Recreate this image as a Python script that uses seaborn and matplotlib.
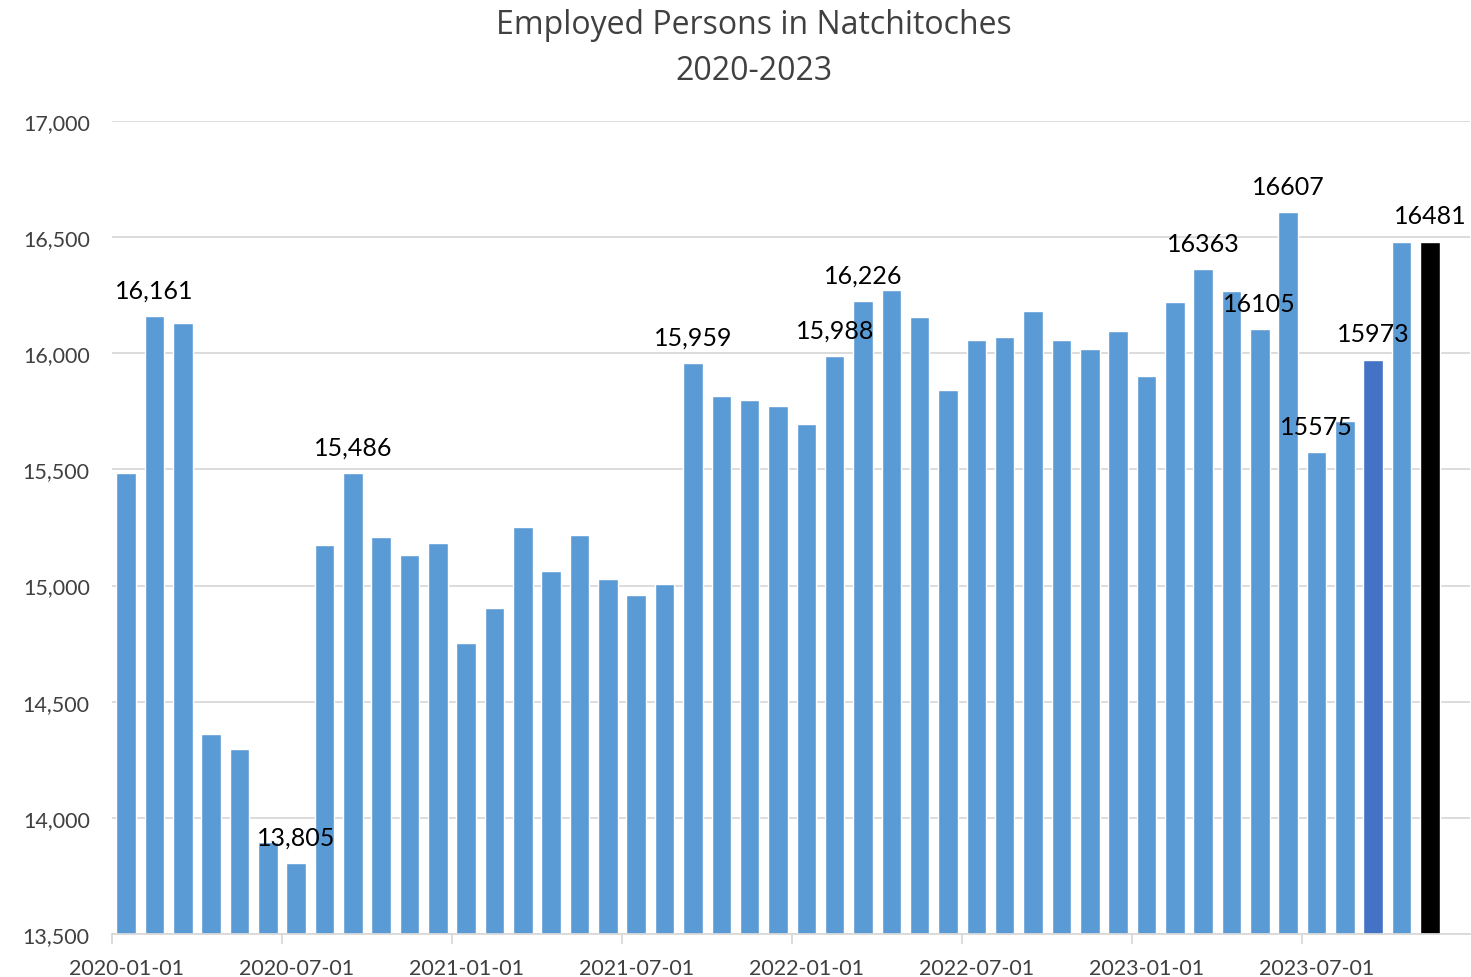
import numpy as np
import pandas as pd
import seaborn as sns
import matplotlib.pyplot as plt
from matplotlib.ticker import FuncFormatter, FixedLocator

# monthly employed persons, 2020-01 .. 2023-11
months = pd.date_range('2020-01-01', '2023-11-01', freq='MS').strftime('%Y-%m-%d').tolist()
employed = [15486, 16161, 16130, 14361, 14296, 13896, 13805, 15174, 15486, 15209,
            15131, 15183, 14753, 14903, 15252, 15063, 15217, 15028, 14959, 15007,
            15959, 15816, 15799, 15773, 15695, 15988, 16226, 16272, 16156, 15842,
            16057, 16070, 16182, 16057, 16018, 16096, 15902, 16221, 16363, 16268,
            16105, 16607, 15575, 15708, 15973, 16481, 16481]

# labelled bars (index -> text)
labels = {1: '16,161', 6: '13,805', 8: '15,486', 20: '15,959', 25: '15,988',
          26: '16,226', 38: '16363', 40: '16105', 41: '16607', 42: '15575',
          44: '15973', 46: '16481'}

tick_labels = ['2020-01-01', '2020-07-01', '2021-01-01', '2021-07-01',
               '2022-01-01', '2022-07-01', '2023-01-01', '2023-07-01']

colors = ['#5B9BD5'] * len(months)
colors[44] = '#4472C4'
colors[46] = '#000000'

df = pd.DataFrame({'month': months, 'employed': employed})

sns.set_style('white')
plt.rcParams['font.family'] = ['Lato', 'DejaVu Sans']

fig = plt.figure(figsize=(14.71, 9.78), dpi=100)
ax = fig.add_axes([0.0761, 0.044, 0.9229, 0.8313])

sns.barplot(data=df, x='month', y='employed', hue='month',
            palette=dict(zip(months, colors)), legend=False,
            width=0.69, saturation=1, ax=ax)

ax.set_xlim(-0.5, 47.4)
ax.set_ylim(13500, 17000)
ax.set_yticks(np.arange(13500, 17001, 500))
ax.yaxis.set_major_formatter(FuncFormatter(lambda v, p: f'{int(v):,}'))
ax.grid(axis='y', color='#D9D9D9', linewidth=1.3)
ax.set_axisbelow(True)

# labels at bar centres, tick marks between categories
ax.set_xticks(range(0, 48, 6))
ax.set_xticklabels(tick_labels)
ax.xaxis.set_minor_locator(FixedLocator(np.arange(-0.5, 47, 6)))
ax.tick_params(axis='x', which='major', length=0, pad=17, labelsize=15.5, labelcolor='#404040')
ax.tick_params(axis='x', which='minor', length=7, width=1.3, color='#D9D9D9', bottom=True)
ax.tick_params(axis='y', length=0, pad=16, labelsize=15.5, labelcolor='#404040')

for s in ['top', 'right', 'left']:
    ax.spines[s].set_visible(False)
ax.spines['bottom'].set_color('#D9D9D9')
ax.spines['bottom'].set_linewidth(1.3)

ax.set_xlabel('')
ax.set_ylabel('')

for i, txt in labels.items():
    ax.annotate(txt, (i, employed[i]), xytext=(0, 13), textcoords='offset points',
                ha='center', va='baseline', fontsize=18, color='black')

fig.text(0.5126, 0.974, 'Employed Persons in Natchitoches', ha='center', va='center',
         fontsize=23, color='#404040', family=['Open Sans', 'DejaVu Sans'])
fig.text(0.5126, 0.927, '2020-2023', ha='center', va='center',
         fontsize=23, color='#404040', family=['Open Sans', 'DejaVu Sans'])

fig.savefig('out.png', dpi=100)
